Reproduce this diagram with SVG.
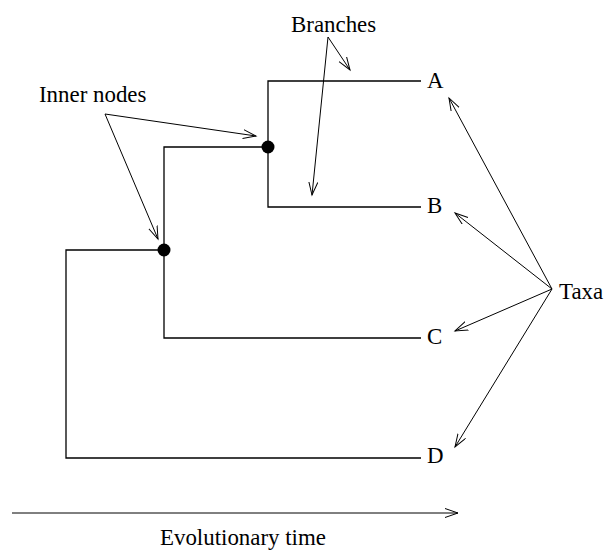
<svg xmlns="http://www.w3.org/2000/svg" width="606" height="550" viewBox="0 0 606 550">
  <style>
    .label { font-family: "Liberation Serif", "Times New Roman", serif; font-size: 22.9px; fill: #000; }
    .branch { fill: none; stroke: #000; stroke-width: 1.3; }
    .pointer { fill: none; stroke: #000; stroke-width: 1; marker-end: url(#open); }
    .inner { fill: #000; }
  </style>
  <defs>
    <marker id="open" markerUnits="userSpaceOnUse" markerWidth="16" markerHeight="12" viewBox="0 0 16 12" refX="13" refY="5" orient="auto">
      <path d="M0,0.5 L13,5 L0,9.5" fill="none" stroke="#000" stroke-width="1"/>
    </marker>
  </defs>

  <rect width="606" height="550" fill="#fff"/>

  <!-- tree branches -->
  <g id="connectors">
    <path class="branch" d="M421,81 H268 V207 H421"/>
    <path class="branch" d="M268,147 H164 V338 H421"/>
    <path class="branch" d="M164,250 H66 V458 H421"/>

    <!-- annotation pointers -->
    <path class="pointer" d="M105,114 L256,136"/>
    <path class="pointer" d="M105,114 L158,239"/>
    <path class="pointer" d="M328,37 L350,70"/>
    <path class="pointer" d="M328,37 L312,195"/>
    <path class="pointer" d="M552,289 L449,98"/>
    <path class="pointer" d="M552,289 L455,213"/>
    <path class="pointer" d="M552,289 L455,331"/>
    <path class="pointer" d="M552,289 L455,447"/>
    <path class="pointer" d="M12,513 L458,513"/>
  </g>

  <g id="node-ab"><circle class="inner" cx="268" cy="147" r="6.5"/></g>
  <g id="node-abc"><circle class="inner" cx="164" cy="250" r="6.5"/></g>

  <g id="taxon-a"><text class="label" x="427" y="88">A</text></g>
  <g id="taxon-b"><text class="label" x="427" y="213">B</text></g>
  <g id="taxon-c"><text class="label" x="427" y="344">C</text></g>
  <g id="taxon-d"><text class="label" x="427" y="463">D</text></g>

  <g id="label-inner"><text class="label" x="39" y="102">Inner nodes</text></g>
  <g id="label-branches"><text class="label" x="291" y="32">Branches</text></g>
  <g id="label-taxa"><text class="label" x="559" y="299">Taxa</text></g>
  <g id="label-time"><text class="label" x="160" y="545">Evolutionary time</text></g>
</svg>
